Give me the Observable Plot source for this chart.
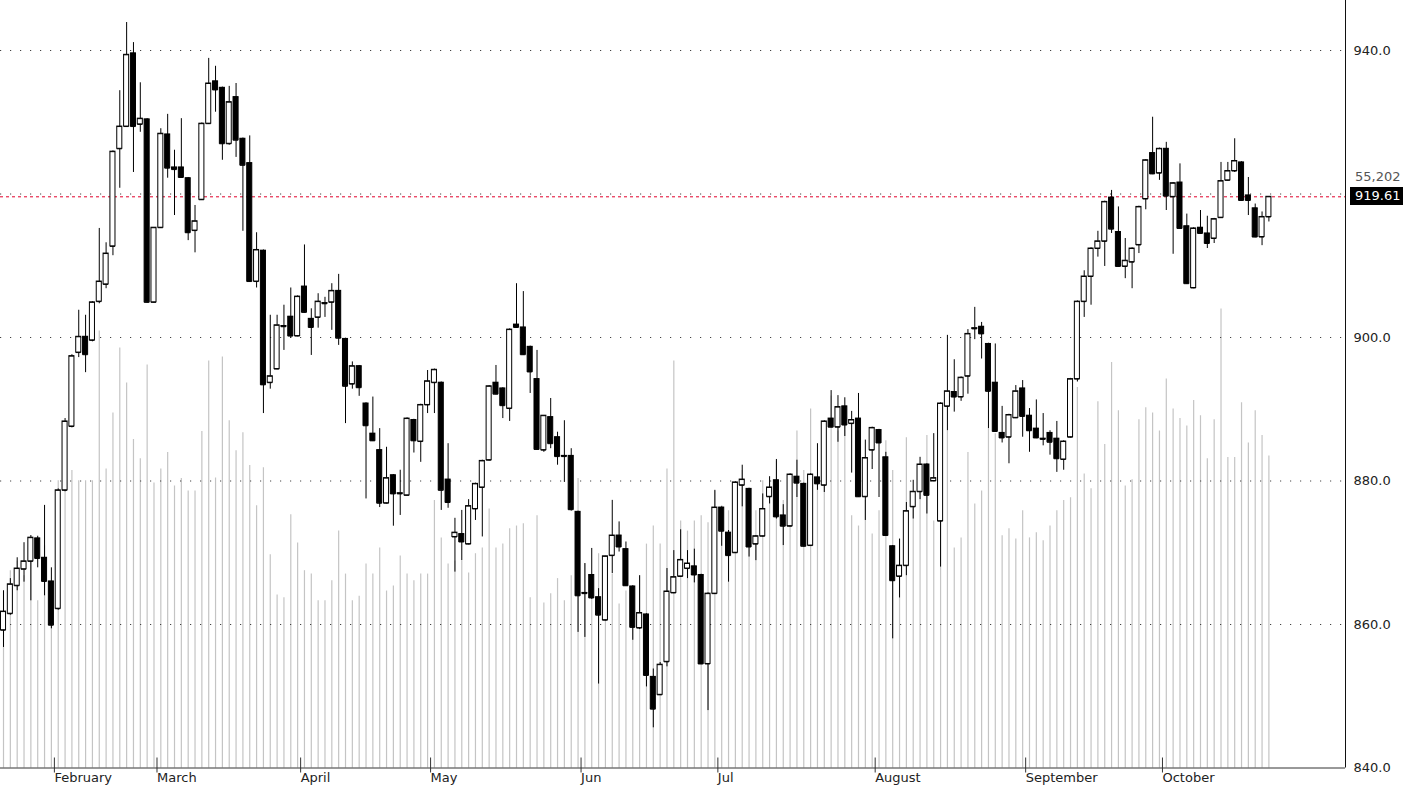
<!DOCTYPE html>
<html><head><meta charset="utf-8">
<script src="https://cdn.jsdelivr.net/npm/d3@7"></script>
<script src="https://cdn.jsdelivr.net/npm/@observablehq/plot@0.6"></script>
<style>
body{margin:0;background:#fff;}
#wrap{position:relative;width:1403px;height:788px;overflow:hidden;font-family:"DejaVu Sans",Arial,sans-serif;}
#wrap svg{position:absolute;left:0;top:0;}
.lbl{position:absolute;font-size:13px;line-height:18px;height:18px;box-sizing:border-box;padding:0 0 0 5px;white-space:nowrap;}
</style></head><body><div id="wrap"></div>
<script>
const opens=[859.2,861.5,865.4,867.7,868.8,872.0,869.3,866.0,862.2,878.7,
887.6,897.9,900.1,899.6,905.0,907.4,912.7,926.3,929.4,939.6,
929.7,930.4,904.9,915.3,928.3,923.7,923.7,922.2,914.9,919.2,
929.8,935.7,934.8,927.0,933.5,927.7,924.3,907.8,912.1,893.7,
895.6,901.5,902.9,900.2,907.1,902.6,902.8,904.7,904.9,906.5,
899.8,893.5,896.0,890.8,886.6,884.3,876.9,880.8,878.2,878.0,
888.5,885.5,890.6,893.7,893.7,880.2,872.2,872.6,871.2,876.1,
879.1,882.9,893.7,892.9,890.1,901.8,901.4,898.7,894.2,884.3,
888.9,886.1,883.5,883.5,875.7,864.3,866.9,863.8,860.6,869.6,
872.4,870.5,865.3,859.5,861.4,852.7,850.2,854.8,864.4,866.7,
867.8,868.1,866.9,854.5,864.3,876.3,872.8,870.0,879.4,878.9,
871.2,872.3,877.8,880.1,875.2,873.7,880.6,879.6,871.0,880.5,
879.4,888.7,887.5,890.4,888.0,888.7,877.8,884.3,887.1,883.3,
870.9,866.7,868.2,876.4,878.5,882.3,880.0,874.4,890.4,892.4,
891.7,894.6,901.2,901.5,899.1,893.7,886.7,886.1,888.8,892.9,
889.1,887.3,885.9,886.7,885.9,883.0,886.1,894.2,905.0,908.5,
912.4,913.4,919.5,914.7,909.9,910.5,912.9,919.3,925.7,922.9,
926.3,919.6,921.6,915.5,906.9,915.3,914.5,913.8,916.7,921.9,
923.2,924.4,919.8,918.0,914.0,916.8];
const highs=[864.7,866.4,869.3,871.4,872.4,872.3,876.6,867.9,878.9,888.7,
897.6,903.8,903.1,905.0,915.2,913.2,926.0,934.4,943.9,941.1,
935.5,930.5,915.3,929.1,931.1,926.1,930.5,922.3,918.4,929.9,
938.9,937.8,934.9,935.0,935.4,927.8,928.1,914.6,912.2,903.1,
903.1,904.5,906.9,905.8,912.9,904.0,906.1,905.6,907.5,908.8,
899.9,896.6,896.1,890.9,891.7,887.3,884.7,880.9,881.5,888.8,
888.6,890.7,895.4,895.6,893.8,885.2,874.8,875.9,877.4,879.7,
882.9,893.3,896.1,893.0,901.2,907.5,906.4,898.8,898.2,889.1,
891.5,886.8,888.4,884.5,875.8,868.5,870.6,865.0,869.5,877.3,
874.3,871.5,865.4,866.8,861.5,853.8,854.7,867.8,870.3,873.2,
870.3,870.5,867.0,864.4,878.7,876.4,873.1,879.9,882.2,879.0,
872.4,878.2,880.6,883.0,876.7,881.0,882.9,879.7,881.0,885.2,
888.4,892.6,891.9,891.6,889.7,892.2,885.7,887.5,887.2,884.0,
871.0,871.9,877.0,880.1,883.3,882.4,886.6,890.9,900.3,896.9,
894.5,901.1,904.2,902.1,899.2,899.1,890.4,889.3,893.3,894.0,
890.1,891.3,889.4,887.0,888.3,885.6,894.3,905.1,909.3,912.5,
914.8,919.0,920.5,918.2,913.8,912.5,918.3,924.8,930.7,926.4,
927.2,921.6,924.2,917.2,915.3,917.7,916.9,916.6,924.4,924.4,
927.7,924.5,922.3,918.6,917.5,919.61];
const lows=[856.8,861.3,864.7,865.9,863.3,867.9,864.0,859.4,862.0,878.5,
887.4,897.2,895.1,899.4,904.7,906.8,911.4,920.8,929.3,923.0,
928.6,904.8,904.8,915.2,922.2,917.0,922.2,913.5,911.8,919.1,
929.7,931.4,924.7,926.8,925.1,914.8,907.7,906.9,889.4,892.8,
895.5,898.2,899.9,900.1,903.4,897.5,901.3,902.8,901.0,898.9,
888.0,892.8,891.8,877.5,885.5,876.3,876.8,873.7,875.2,877.9,
883.9,882.6,889.4,889.4,875.9,876.2,867.3,868.9,871.1,874.5,
872.2,882.8,892.0,888.7,888.3,901.3,897.5,892.2,884.3,884.0,
884.5,882.2,879.8,875.8,858.9,858.2,863.5,851.7,860.5,867.1,
870.1,865.3,857.8,859.3,851.3,845.6,850.1,854.1,864.3,866.6,
866.4,865.8,854.4,848.0,864.2,870.9,865.9,869.9,876.4,869.4,
868.9,872.2,876.8,874.7,871.0,873.6,877.7,870.8,870.9,878.7,
878.4,887.4,885.4,886.2,881.1,877.7,874.5,881.6,877.7,872.3,
858.0,863.7,866.8,874.7,877.4,875.4,879.9,868.0,887.0,889.6,
891.1,892.1,899.7,897.0,887.3,886.8,885.3,882.4,888.7,886.1,
884.0,885.9,884.9,883.6,881.2,881.5,886.0,893.8,902.8,904.5,
911.2,909.9,914.5,909.8,908.2,906.8,911.7,917.8,922.7,921.9,
917.7,911.6,915.1,907.4,906.8,914.4,912.4,913.1,916.6,921.8,
923.0,919.0,917.0,913.9,912.8,916.1];
const closes=[861.8,865.6,867.8,868.8,872.1,869.2,866.0,859.9,878.7,888.3,
897.4,900.1,897.6,904.9,907.8,911.7,925.9,929.4,939.4,929.4,
930.5,904.9,915.3,928.4,923.6,923.4,922.3,914.6,916.2,929.8,
935.4,934.5,927.0,932.8,927.5,924.0,907.8,912.2,893.4,894.6,
901.7,901.6,900.2,905.7,903.5,901.4,905.0,904.8,906.5,899.9,
893.2,896.0,893.0,887.7,885.6,876.9,880.4,878.2,878.3,888.7,
885.6,890.6,893.9,895.5,878.7,877.0,872.8,871.5,876.5,879.6,
882.8,893.2,892.1,890.5,901.1,901.4,897.6,895.2,884.4,889.1,
885.2,883.4,883.4,876.0,864.0,864.4,863.7,861.3,869.5,872.4,
870.8,865.4,859.6,861.6,852.9,848.2,854.4,864.6,866.6,869.0,
868.5,866.9,854.5,864.3,876.3,873.0,869.6,879.8,880.2,870.8,
872.3,876.1,879.1,875.0,873.7,880.9,879.7,870.9,880.9,879.6,
888.3,887.5,890.3,887.8,888.5,877.8,883.2,887.4,885.3,872.4,
866.1,868.2,875.8,878.5,882.3,878.0,880.4,890.8,892.5,891.7,
894.4,900.5,901.3,900.5,892.5,886.9,886.0,889.2,892.5,889.0,
887.0,886.0,885.8,885.4,883.1,885.5,894.2,905.0,908.5,912.4,
913.4,918.9,915.1,909.9,910.7,912.4,918.2,924.7,922.8,926.3,
919.7,921.5,915.2,907.5,915.2,914.5,913.1,916.5,921.8,923.2,
924.6,919.1,919.1,914.0,916.8,919.61];
// volume in thousands
const volumes=[31.3,34.9,36.6,34.0,39.3,29.6,39.3,29.6,50.8,57.0,
52.6,50.8,50.8,50.8,77.3,52.9,62.8,74.3,68.1,58.1,
54.7,71.3,50.4,52.9,55.8,49.9,51.2,49.0,49.0,59.5,
72.0,51.3,72.7,61.4,56.1,59.3,53.5,46.4,53.1,37.7,
30.6,30.1,44.8,39.8,34.9,34.3,29.6,29.6,33.1,41.9,
34.3,29.6,30.4,36.1,34.3,38.9,31.3,32.2,37.5,34.3,
33.1,34.3,34.3,47.3,40.7,36.1,36.6,36.6,34.5,37.9,
38.9,45.8,38.9,39.6,42.3,42.8,43.2,30.1,44.6,29.2,
30.8,33.5,29.6,34.0,51.2,36.1,34.0,37.9,36.6,34.3,
29.0,31.3,32.2,34.0,39.6,42.8,39.6,52.9,72.0,43.7,
41.9,43.7,44.6,43.4,49.0,46.4,45.5,47.3,52.6,47.3,
45.5,50.8,49.0,54.3,47.3,50.8,59.6,52.6,63.5,50.8,
56.1,65.8,59.6,63.2,44.6,42.8,47.3,41.4,45.5,57.9,
52.6,40.5,58.4,47.3,53.5,58.8,43.7,45.5,59.6,38.9,
40.7,55.8,46.7,49.0,60.0,59.1,41.1,42.3,40.5,45.5,
40.7,41.6,40.2,42.8,45.5,47.3,47.8,67.3,52.0,49.4,
64.8,57.2,71.7,63.2,49.9,51.0,61.6,63.7,62.8,59.6,
68.8,63.5,61.8,60.5,65.0,62.3,54.7,61.6,81.2,54.9,
54.9,64.6,57.5,63.2,58.8,55.202];
const monthStarts=[7,22,43,62,84,104,127,149,169];
const monthNames=["February","March","April","May","Jun","Jul","August","September","October"];
const priceTicks=[940,900,880,860,840];
const gridLevels=[940,920,900,880,860];
const lastClose=919.61;
const lastVolume=55202;

const candles=opens.map((o,i)=>({i,open:o,high:highs[i],low:lows[i],close:closes[i],vol:volumes[i]}));
const W=1403,H=788;
const xOpt={type:"linear",domain:[-0.44,196.2],range:[0,1345]};
const font='"DejaVu Sans", Arial, sans-serif';

const volPlot=Plot.plot({
  width:W,height:H,marginLeft:0,marginRight:58,marginTop:0,marginBottom:20.5,
  style:{background:"transparent"},
  x:{...xOpt,axis:null},
  y:{domain:[0,135.75],range:[767.5,0],axis:null},
  marks:[
    Plot.ruleX(candles,{x:"i",y1:0,y2:"vol",stroke:"#c4c4c4",strokeWidth:1.2})
  ]
});

const bw=0.37;
const pricePlot=Plot.plot({
  width:W,height:H,marginLeft:0,marginRight:58,marginTop:0,marginBottom:20.5,
  style:{background:"transparent",fontFamily:font,fontSize:"13px",color:"#222"},
  x:{...xOpt,label:null},
  y:{domain:[840,940],range:[767.5,50],label:null},
  marks:[
    Plot.ruleY(gridLevels,{stroke:"#444",strokeDasharray:"1.2,8.8"}),
    Plot.ruleY([lastClose],{stroke:"#e3002b",strokeDasharray:"3,3"}),
    Plot.ruleX(candles,{x:"i",y1:"low",y2:"high",stroke:"#000"}),
    Plot.rect(candles,{x1:d=>d.i-bw,x2:d=>d.i+bw,y1:d=>Math.min(d.open,d.close),y2:d=>Math.max(d.open,d.close),
      fill:d=>d.close>=d.open?"#fff":"#000",stroke:"#000",strokeWidth:1}),
    Plot.ruleY(candles,{y:"close",x1:d=>d.i-bw,x2:d=>d.i+bw,stroke:"#000"}),
    Plot.ruleY(candles,{y:"open",x1:d=>d.i-bw,x2:d=>d.i+bw,stroke:"#000"}),
    Plot.ruleY([840],{stroke:"#333"}),
    Plot.ruleX([196.2],{stroke:"#111"}),
    Plot.axisY({anchor:"right",label:null,ticks:priceTicks,tickFormat:d3.format(".1f"),tickSize:0,tickPadding:8,fontSize:13,fill:"#222"}),
    Plot.axisX({anchor:"bottom",label:null,ticks:monthStarts,tickFormat:d=>monthNames[monthStarts.indexOf(d)],
      tickSize:15,tickPadding:0,textAnchor:"start",dx:3,dy:-10,fontSize:13,stroke:"#333",fill:"#222"})
  ]
});

const wrap=document.getElementById("wrap");
wrap.appendChild(volPlot);
wrap.appendChild(pricePlot);

const yLast=pricePlot.scale("y").apply(lastClose);
const vLbl=document.createElement("div");
vLbl.className="lbl";
vLbl.textContent=d3.format(",")(lastVolume);
Object.assign(vLbl.style,{left:"1350px",top:(yLast-28)+"px",width:"53px",color:"#555",background:"#fff"});
wrap.appendChild(vLbl);
const pLbl=document.createElement("div");
pLbl.className="lbl";
pLbl.textContent=d3.format(".2f")(lastClose);
Object.assign(pLbl.style,{left:"1350px",top:(yLast-9)+"px",width:"53px",color:"#fff",background:"#000"});
wrap.appendChild(pLbl);
</script></body></html>
